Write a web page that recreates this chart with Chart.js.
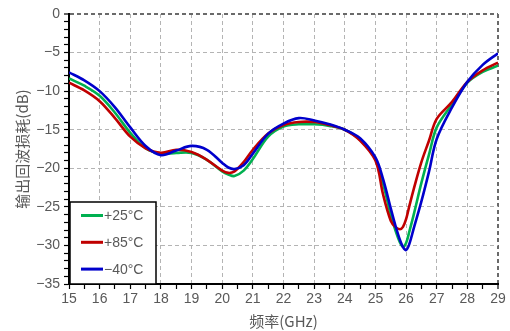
<!DOCTYPE html>
<html>
<head>
<meta charset="utf-8">
<script src="https://cdn.jsdelivr.net/npm/chart.js@4/dist/chart.umd.min.js"></script>
<style>
html,body{margin:0;padding:0;background:#fff;}
#wrap{width:510px;height:331px;position:relative;}
</style>
</head>
<body>
<div id="wrap"><canvas id="c" width="510" height="331"></canvas></div>
<script>
const freqs = [15, 15.5, 16, 16.5, 17, 17.5, 18, 18.5, 19, 19.5, 20, 20.2, 20.4, 20.7, 21, 21.5, 22, 22.5, 23, 23.5, 24, 24.5, 25, 25.25, 25.5, 25.65, 25.8, 25.9, 26, 26.1, 26.25, 26.5, 26.75, 27, 27.5, 28, 28.5, 29];
const seriesLabels = ['+25°C', '+85°C', '\u221240°C'];
const green25 = [-8.35, -9.3, -10.6, -12.8, -15.4, -17.4, -18.1, -18.0, -18.0, -18.9, -20.4, -20.8, -21.0, -20.3, -18.8, -15.9, -14.6, -14.3, -14.3, -14.5, -15.0, -16.3, -18.8, -22.0, -26.0, -28.0, -29.6, -30.2, -29.7, -28.3, -26.0, -21.9, -18.2, -14.7, -11.7, -8.9, -7.5, -6.7];
const red85 = [-8.9, -9.9, -11.3, -13.5, -15.9, -17.4, -18.0, -17.6, -17.9, -18.9, -20.3, -20.6, -20.4, -19.2, -17.6, -15.5, -14.4, -14.0, -14.0, -14.4, -15.0, -16.4, -19.0, -23.4, -26.8, -27.6, -27.9, -27.6, -26.6, -25.0, -22.7, -19.2, -16.4, -13.6, -11.4, -8.8, -7.3, -6.3];
const blue40 = [-7.56, -8.6, -10.0, -12.1, -14.7, -17.1, -18.3, -17.7, -17.1, -17.6, -19.3, -19.9, -20.1, -19.6, -18.1, -15.5, -14.2, -13.5, -13.8, -14.3, -15.0, -16.1, -18.6, -21.4, -25.2, -27.4, -29.3, -30.2, -30.6, -29.9, -27.8, -24.3, -20.4, -16.2, -12.1, -8.8, -6.6, -5.1];
const seriesColors = ['#00b050', '#c00000', '#0000cc'];
const yTicks = [0, -5, -10, -15, -20, -25, -30, -35];
const xTicks = [15, 16, 17, 18, 19, 20, 21, 22, 23, 24, 25, 26, 27, 28, 29];

const toPts = arr => arr.map((v, i) => ({x: freqs[i], y: v}));
const allSeries = [green25, red85, blue40];

const legendPlugin = {
  id: 'boxLegend',
  afterDatasetsDraw(chart) {
    const ctx = chart.ctx;
    const a = chart.chartArea;
    const x0 = a.left + 1, y0 = a.bottom - 82, w = 86, h = 82;
    ctx.save();
    ctx.fillStyle = '#fff';
    ctx.fillRect(x0, y0, w, h);
    ctx.strokeStyle = '#000';
    ctx.lineWidth = 1.5;
    ctx.strokeRect(x0, y0, w, h);
    ctx.font = '14px "Liberation Sans", Arial, sans-serif';
    ctx.textBaseline = 'middle';
    ctx.fillStyle = '#595959';
    chart.data.datasets.forEach((ds, i) => {
      const y = y0 + 13.5 + i * 26.8;
      ctx.strokeStyle = ds.borderColor;
      ctx.lineWidth = 3;
      ctx.beginPath();
      ctx.moveTo(x0 + 11, y);
      ctx.lineTo(x0 + 33, y);
      ctx.stroke();
      ctx.fillText(ds.label, x0 + 34, y + 1);
    });
    ctx.restore();
  }
};

new Chart(document.getElementById('c'), {
  type: 'line',
  data: {
    datasets: allSeries.map((s, i) => ({
      label: seriesLabels[i],
      data: toPts(s),
      borderColor: seriesColors[i],
      borderWidth: 2.6,
      pointRadius: 0,
      fill: false,
      tension: 0.35,
      order: [2, 1, 0][i]
    }))
  },
  options: {
    responsive: false,
    animation: false,
    devicePixelRatio: 1,
    layout: {padding: {top: 14, right: 12, left: 0, bottom: 0}},
    plugins: {legend: {display: false}, tooltip: {enabled: false}},
    scales: {
      x: {
        type: 'linear',
        min: 15, max: 29,
        afterFit(s) { s.height = 47; },
        afterBuildTicks(s) {
          const t = [];
          for (let v = 15; v <= 29.001; v += 0.5) t.push({value: Math.round(v * 2) / 2});
          s.ticks = t;
        },
        ticks: {
          autoSkip: false, maxRotation: 0, padding: 2,
          color: '#595959',
          font: {family: '"Liberation Sans", Arial, sans-serif', size: 14},
          callback: v => xTicks.includes(v) ? String(v) : ''
        },
        grid: {
          drawTicks: true, tickLength: 5, tickColor: '#000', tickWidth: 1.2,
          lineWidth: ctx => (ctx.tick && ctx.tick.value === 29) ? 2 : 1,
          color: ctx => {
            const v = ctx.tick ? ctx.tick.value : null;
            if (v === 29) return '#6a6a6a';
            return xTicks.includes(v) ? '#b4b4b4' : 'transparent';
          }
        },
        border: {display: true, color: '#000', width: 2, dash: [4, 3]},
        title: {
          display: true, text: '频率(GHz)', color: '#595959',
          font: {family: '"Noto Sans CJK SC", sans-serif', size: 15},
          padding: {top: 0, bottom: 1}
        }
      },
      y: {
        type: 'linear',
        min: -35, max: 0,
        afterFit(s) { s.width = 69; },
        afterBuildTicks(s) {
          const t = [];
          for (let v = -35; v <= 0; v += 1) t.push({value: v});
          s.ticks = t;
        },
        ticks: {
          autoSkip: false, padding: 4,
          color: '#595959',
          font: {family: '"Liberation Sans", Arial, sans-serif', size: 14},
          callback: v => yTicks.includes(v) ? String(v).replace('-', '\u2212') : ''
        },
        grid: {
          drawTicks: true, tickLength: 5, tickColor: '#000', tickWidth: 1.2,
          lineWidth: ctx => (ctx.tick && ctx.tick.value === 0) ? 2 : 1,
          color: ctx => {
            const v = ctx.tick ? ctx.tick.value : null;
            if (v === 0) return '#6a6a6a';
            return yTicks.includes(v) ? '#b4b4b4' : 'transparent';
          }
        },
        border: {display: true, color: '#000', width: 2, dash: [4, 3]},
        title: {
          display: true, text: '输出回波损耗(dB)', color: '#595959',
          font: {family: '"Noto Sans CJK SC", sans-serif', size: 15},
          padding: {top: 13, bottom: 0}
        }
      }
    }
  },
  plugins: [legendPlugin]
});
</script>
</body>
</html>
